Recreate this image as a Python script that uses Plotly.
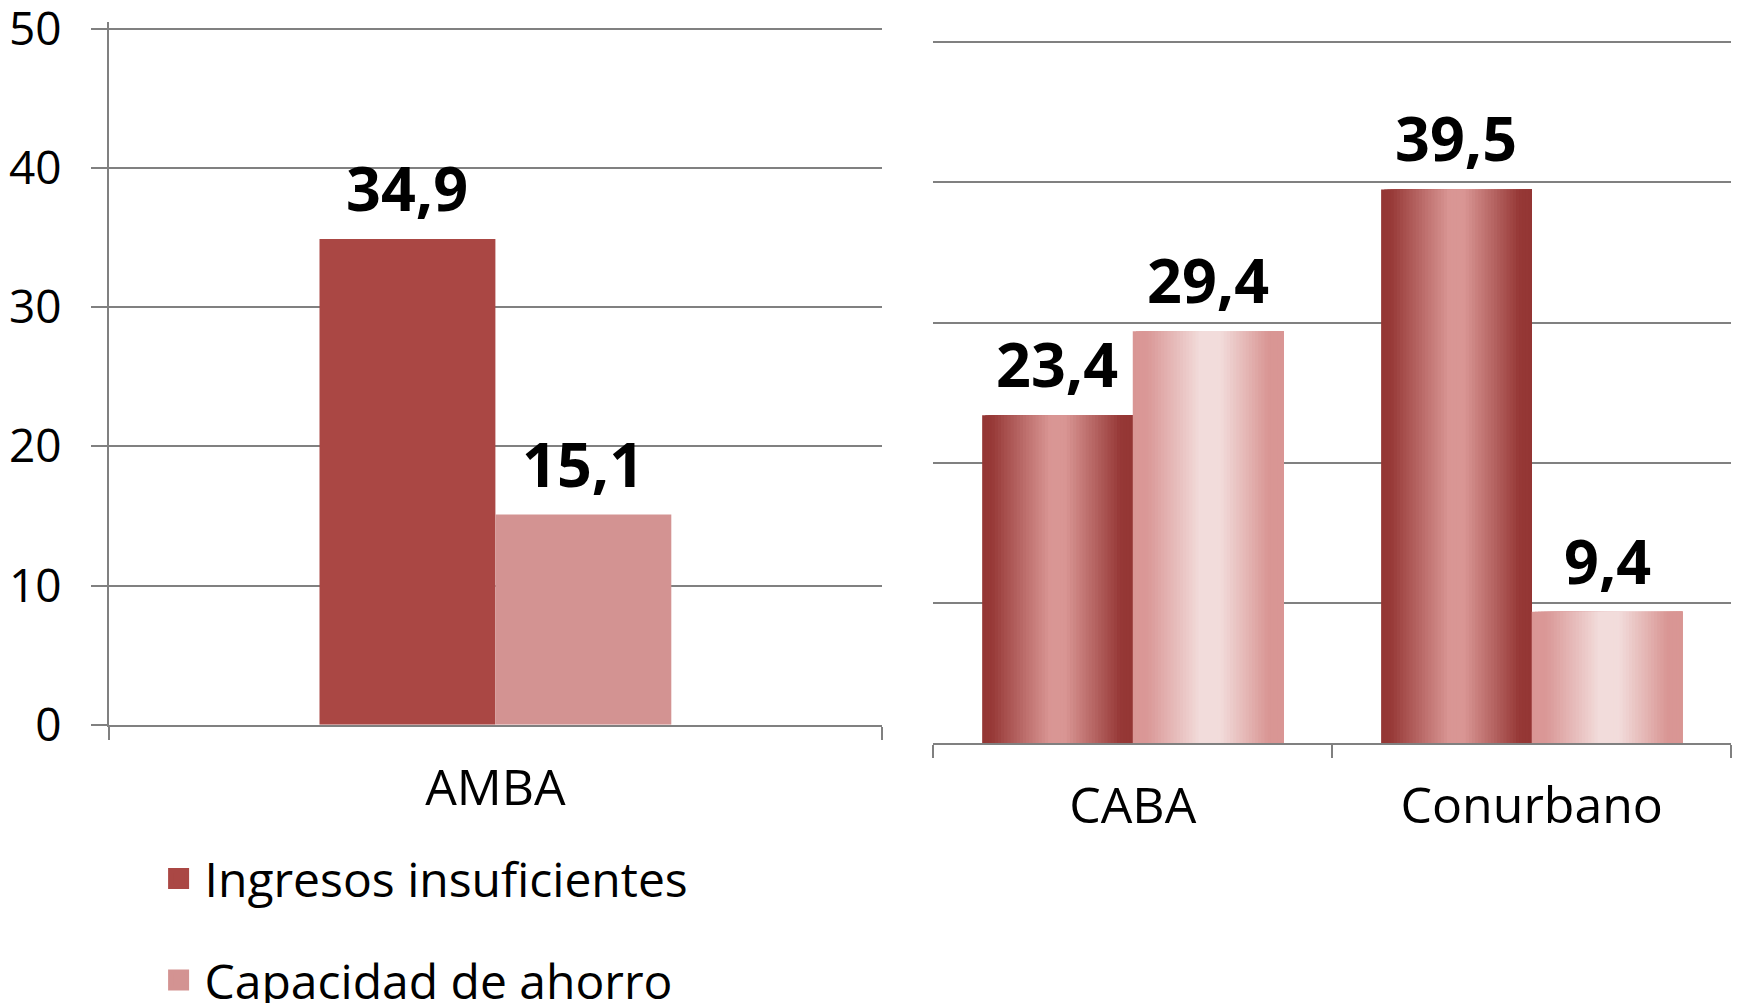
import plotly.graph_objects as go

series_names = ["Ingresos insuficientes", "Capacidad de ahorro"]

left_categories = ["AMBA"]
left_ingresos = [34.9]
left_ahorro = [15.1]

right_categories = ["CABA", "Conurbano"]
right_ingresos = [23.4, 39.5]
right_ahorro = [29.4, 9.4]

y_ticks = [0, 10, 20, 30, 40, 50]

FONT = "Open Sans, Lato, sans-serif"
GRID = "#808080"
RED = "#AA4744"
PINK = "#D39392"

# excel style "reflected" linear gradients for the right panel
RED_STOPS = [(0, "#943634"), (0.06, "#963836"), (0.45, "#D99694"),
             (0.55, "#D99694"), (0.92, "#963836"), (1, "#943634")]
PINK_STOPS = [(0, "#D99694"), (0.1, "#DA9897"), (0.45, "#F2DCDB"),
              (0.58, "#F2DCDB"), (0.9, "#D99694"), (1, "#D99694")]

N_STRIPS = 48
LEFT_BW = 0.2275
RIGHT_BW = 0.3775
Y_RANGE = [0, 50.5]  # a bit of headroom so the 50 gridline is kept


def hex_rgb(h):
    h = h.lstrip("#")
    return tuple(int(h[i:i + 2], 16) for i in (0, 2, 4))


def color_at(stops, t):
    for (t0, c0), (t1, c1) in zip(stops[:-1], stops[1:]):
        if t0 <= t <= t1:
            f = 0 if t1 == t0 else (t - t0) / (t1 - t0)
            a, b = hex_rgb(c0), hex_rgb(c1)
            r = [round(a[k] + (b[k] - a[k]) * f) for k in range(3)]
            return "rgb({},{},{})".format(*r)
    return stops[-1][1]


def fmt(v):
    return f"{v:.1f}".replace(".", ",")


fig = go.Figure()

# left panel: flat bars
fig.add_trace(go.Bar(
    x=left_categories, y=left_ingresos, width=LEFT_BW, offset=-LEFT_BW,
    marker=dict(color=RED, line_width=0), showlegend=False,
    xaxis="x", yaxis="y", name=series_names[0],
))
fig.add_trace(go.Bar(
    x=left_categories, y=left_ahorro, width=LEFT_BW, offset=0,
    marker=dict(color=PINK, line_width=0), showlegend=False,
    xaxis="x", yaxis="y", name=series_names[1],
))

# right panel: gradient bars built from overlapping strips
step = RIGHT_BW / N_STRIPS
for values, base, stops, name in [
    (right_ingresos, -RIGHT_BW, RED_STOPS, series_names[0]),
    (right_ahorro, 0, PINK_STOPS, series_names[1]),
]:
    for i in range(N_STRIPS):
        fig.add_trace(go.Bar(
            x=right_categories, y=values,
            width=RIGHT_BW - i * step, offset=base + i * step,
            marker=dict(color=color_at(stops, (i + 0.5) / N_STRIPS), line_width=0),
            showlegend=False, hoverinfo="skip", name=name,
            xaxis="x2", yaxis="y2",
        ))

# legend entries
for name, col in zip(series_names, [RED, PINK]):
    fig.add_trace(go.Scatter(
        x=[None], y=[None], mode="markers", name=name, legendgroup=name,
        marker=dict(symbol="square", size=16, color=col, line=dict(color=col, width=5)),
        xaxis="x", yaxis="y",
    ))

annotations = []
for xref, yref, cats, vals_a, vals_b, bw in [
    ("x", "y", left_categories, left_ingresos, left_ahorro, LEFT_BW),
    ("x2", "y2", right_categories, right_ingresos, right_ahorro, RIGHT_BW),
]:
    for idx in range(len(cats)):
        for v, off in [(vals_a[idx], -bw / 2), (vals_b[idx], bw / 2)]:
            annotations.append(dict(
                x=idx + off, y=v, xref=xref, yref=yref, text=fmt(v),
                showarrow=False, yanchor="bottom", yshift=8,
                font=dict(family=FONT, size=61, color="black", weight="bold"),
            ))

axis_common = dict(
    linecolor=GRID, linewidth=2, tickcolor=GRID, tickwidth=2,
    gridcolor=GRID, gridwidth=2, zeroline=False, automargin=False,
)

fig.update_layout(
    width=1740, height=1003,
    margin=dict(l=0, r=0, t=0, b=0, autoexpand=False),
    paper_bgcolor="white", plot_bgcolor="white",
    barmode="overlay",
    separators=",.",
    font=dict(family=FONT, color="black"),
    xaxis=dict(
        domain=[0.05793, 0.50230], anchor="y", type="category", range=[-0.5, 0.5],
        showline=True, ticks="outside", tickson="boundaries", ticklen=13,
        showgrid=False, tickfont=dict(size=50), ticklabelstandoff=18,
        **axis_common,
    ),
    yaxis=dict(
        domain=[0.28544, 0.98610], anchor="x", range=Y_RANGE, tickvals=y_ticks,
        showline=True, ticks="outside", ticklen=16, showgrid=True,
        tickfont=dict(size=46), ticklabelstandoff=20, ticklabeloverflow="allow",
        **axis_common,
    ),
    xaxis2=dict(
        domain=[0.53178, 0.99034], anchor="y2", type="category", range=[-0.5, 1.5],
        showline=True, ticks="outside", tickson="boundaries", ticklen=13,
        showgrid=False, tickfont=dict(size=50), ticklabelstandoff=18,
        **axis_common,
    ),
    yaxis2=dict(
        domain=[0.26670, 0.97289], anchor="x2", range=Y_RANGE, tickvals=y_ticks,
        showline=False, ticks="", showticklabels=False, showgrid=True,
        **axis_common,
    ),
    showlegend=True,
    legend=dict(
        x=0.0831, xanchor="left", y=1 - 832.8 / 1003, yanchor="top",
        font=dict(size=48, family=FONT), tracegroupgap=36,
        itemwidth=42, bgcolor="rgba(0,0,0,0)",
    ),
    annotations=annotations,
)

fig.write_html("out.html")
